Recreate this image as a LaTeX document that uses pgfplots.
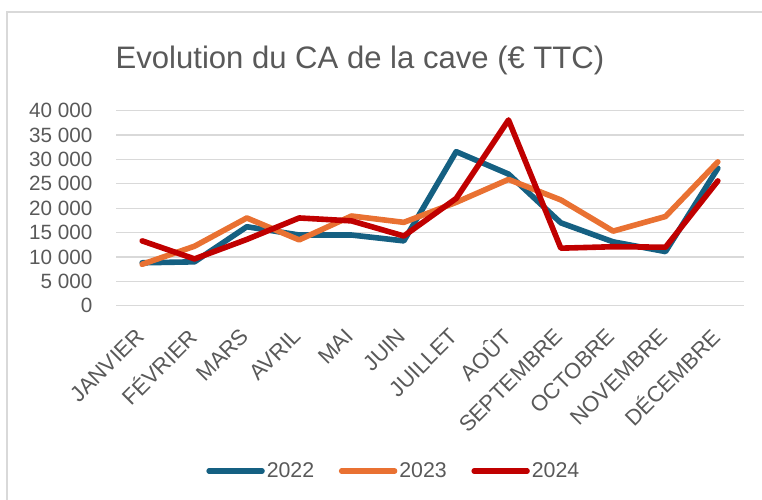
\documentclass[border=0pt]{standalone}
\usepackage{pgfplots}
\pgfplotsset{compat=1.18}
\usepackage{fontspec}
\setmainfont{Liberation Sans}
\definecolor{c22}{HTML}{156082}
\definecolor{c23}{HTML}{E97132}
\definecolor{c24}{HTML}{C00000}
\definecolor{txt}{HTML}{595959}
\definecolor{grd}{HTML}{D9D9D9}
\begin{document}
\begin{tikzpicture}
\useasboundingbox (0,0) rectangle (571.5pt,-374.25pt);
\draw[grd, line width=1.1pt] (5.25pt,-380pt) -- (5.25pt,-9pt) -- (580pt,-9pt);
\node[anchor=base, text=txt, font=\fontsize{23.3}{28}\selectfont] at (270pt,-51.2pt) {Evolution du CA de la cave (€ TTC)};
\begin{axis}[
  at={(87pt,-229.275pt)}, anchor=south west,
  scale only axis, width=471pt, height=146.25pt,
  xmin=-0.5, xmax=11.5, ymin=0, ymax=40000,
  scaled y ticks=false,
  axis line style={draw=none},
  tick style={draw=none},
  ytick={0,5000,10000,15000,20000,25000,30000,35000,40000},
  yticklabels={0,5\ 000,10\ 000,15\ 000,20\ 000,25\ 000,30\ 000,35\ 000,40\ 000},
  xtick={0,...,11},
  xticklabels={JANVIER,FÉVRIER,MARS,AVRIL,MAI,JUIN,JUILLET,AOÛT,SEPTEMBRE,OCTOBRE,NOVEMBRE,DÉCEMBRE},
  ymajorgrids, major grid style={grd, line width=1pt},
  yticklabel style={anchor=east, inner sep=0pt, xshift=-17.5pt, text=txt, font=\fontsize{15.5}{18}\selectfont},
  xticklabel style={xshift=-1.5pt, yshift=-20pt, rotate=45, anchor=east, inner sep=0pt, text=txt, font=\fontsize{16.5}{19}\selectfont},
  /pgf/number format/assume math mode=true,
  legend columns=3,
  legend style={draw=none, fill=none, at={(0.4424,-0.8477)}, anchor=center,
    font=\fontsize{16}{19}\selectfont, text=txt,
    /tikz/every even column/.append style={column sep=17pt},
    nodes={inner sep=1.5pt}},
  legend image code/.code={\draw[#1, line width=3.8pt, line cap=round] (0pt,0pt) -- (40pt,0pt);},
  every axis plot/.append style={line width=4.2pt, line join=round, line cap=round, mark=none},
]
\addplot[c22] coordinates {(0,8800) (1,9000) (2,16200) (3,14500) (4,14500) (5,13300) (6,31600) (7,27000) (8,17000) (9,13100) (10,11100) (11,28200)};
\addplot[c23] coordinates {(0,8500) (1,12200) (2,18000) (3,13500) (4,18400) (5,17100) (6,21200) (7,25900) (8,21700) (9,15300) (10,18300) (11,29500)};
\addplot[c24] coordinates {(0,13300) (1,9600) (2,13600) (3,18000) (4,17400) (5,14300) (6,22000) (7,38100) (8,11800) (9,12100) (10,12000) (11,25600)};
\legend{2022,2023,2024}
\end{axis}
\end{tikzpicture}
\end{document}
